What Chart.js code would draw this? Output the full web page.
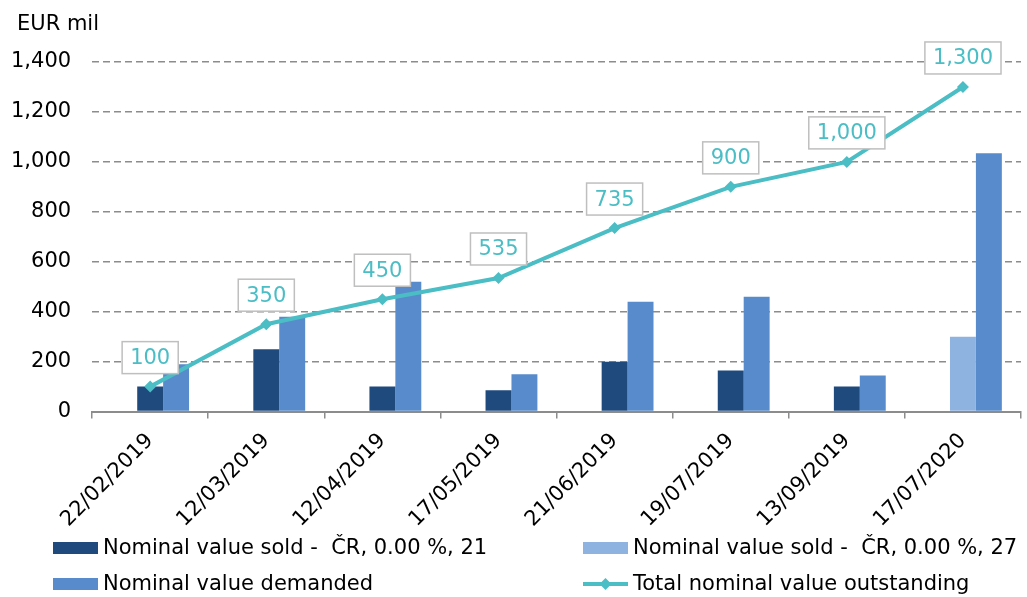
<!DOCTYPE html>
<html>
<head>
<meta charset="utf-8">
<script src="https://cdn.jsdelivr.net/npm/chart.js@4.4.1/dist/chart.umd.min.js"></script>
<style>
  html, body { margin: 0; padding: 0; background: #fff; }
  #wrap { width: 1027px; height: 597px; }
</style>
</head>
<body>
<div id="wrap"><canvas id="auctionChart"></canvas></div>
<script>
// auction dates
const categories = ['22/02/2019', '12/03/2019', '12/04/2019', '17/05/2019', '21/06/2019', '19/07/2019', '13/09/2019', '17/07/2020'];
// EUR mil
const soldBond21 = [100, 250, 100, 85, 200, 165, 100, null];
const soldBond27 = [null, null, null, null, null, null, null, 300];
const demanded = [190, 380, 520, 150, 440, 460, 145, 1035];
const outstanding = [100, 350, 450, 535, 735, 900, 1000, 1300];
// empty first slot in each cluster (as in the original)
const spacer = [null, null, null, null, null, null, null, null];
const yTicks = [0, 200, 400, 600, 800, 1000, 1200, 1400];

const FONT = '"DejaVu Sans", Verdana, sans-serif';
const TEAL = '#4BBDC5';
const GRID = '#8C8C8C';

const fmt = v => v.toLocaleString('en-US');

// boxed value labels above the line points
const boxLabels = {
    id: 'boxLabels',
    afterDatasetsDraw(chart) {
        const ctx = chart.ctx;
        const meta = chart.getDatasetMeta(0);
        ctx.save();
        ctx.font = '21px ' + FONT;
        meta.data.forEach((pt, i) => {
            const text = fmt(outstanding[i]);
            const w = ctx.measureText(text).width + 16;
            const h = 32;
            const x = pt.x - w / 2;
            const y = pt.y - 13 - h;
            ctx.fillStyle = '#fff';
            ctx.fillRect(x, y, w, h);
            ctx.strokeStyle = '#BFBFBF';
            ctx.lineWidth = 1.5;
            ctx.strokeRect(x, y, w, h);
            ctx.fillStyle = TEAL;
            ctx.textAlign = 'center';
            ctx.textBaseline = 'middle';
            ctx.fillText(text, pt.x, y + h / 2 + 1);
        });
        ctx.restore();
    }
};

// unit caption + two-column legend
const extras = {
    id: 'extras',
    afterDraw(chart) {
        const ctx = chart.ctx;
        ctx.save();
        ctx.font = '21px ' + FONT;
        ctx.fillStyle = '#000';
        ctx.textBaseline = 'middle';
        ctx.textAlign = 'left';
        ctx.fillText('EUR mil', 17, 25);

        const ds = chart.data.datasets;
        const items = [
            { d: ds[2], x: 53, y: 548 },
            { d: ds[3], x: 583, y: 548 },
            { d: ds[4], x: 53, y: 584 },
            { d: ds[0], x: 583, y: 584 }
        ];
        items.forEach(it => {
            if (it.d.type === 'line') {
                ctx.strokeStyle = it.d.borderColor;
                ctx.lineWidth = 4;
                ctx.beginPath();
                ctx.moveTo(it.x, it.y);
                ctx.lineTo(it.x + 45, it.y);
                ctx.stroke();
                ctx.fillStyle = it.d.borderColor;
                ctx.beginPath();
                const cx = it.x + 22.5, r = 6;
                ctx.moveTo(cx, it.y - r);
                ctx.lineTo(cx + r, it.y);
                ctx.lineTo(cx, it.y + r);
                ctx.lineTo(cx - r, it.y);
                ctx.closePath();
                ctx.fill();
            } else {
                ctx.fillStyle = it.d.backgroundColor;
                ctx.fillRect(it.x, it.y - 6, 45, 12);
            }
            ctx.fillStyle = '#000';
            ctx.fillText(it.d.label, it.x + 50, it.y + 1);
        });
        ctx.restore();
    }
};

new Chart(document.getElementById('auctionChart'), {
    data: {
        labels: categories,
        datasets: [{
            type: 'line',
            label: 'Total nominal value outstanding',
            data: outstanding,
            borderColor: TEAL,
            backgroundColor: TEAL,
            borderWidth: 4,
            pointStyle: 'rectRot',
            pointRadius: 6,
            pointBorderWidth: 0,
            tension: 0,
            order: 0
        }, {
            type: 'bar',
            label: '',
            data: spacer,
            stack: 'gap',
            backgroundColor: 'rgba(0,0,0,0)',
            order: 1
        }, {
            type: 'bar',
            label: 'Nominal value sold -  ČR, 0.00 %, 21',
            data: soldBond21,
            stack: 'sold',
            backgroundColor: '#1F4A7E',
            order: 1
        }, {
            type: 'bar',
            label: 'Nominal value sold -  ČR, 0.00 %, 27',
            data: soldBond27,
            stack: 'sold',
            backgroundColor: '#8FB3E0',
            order: 1
        }, {
            type: 'bar',
            label: 'Nominal value demanded',
            data: demanded,
            stack: 'dem',
            backgroundColor: '#588BCB',
            order: 1
        }]
    },
    options: {
        responsive: true,
        maintainAspectRatio: false,
        animation: false,
        datasets: {
            bar: { categoryPercentage: 0.67, barPercentage: 1.0 }
        },
        layout: { padding: { left: 11, top: 62, right: 0, bottom: 55 } },
        plugins: {
            legend: { display: false },
            tooltip: { enabled: false }
        },
        scales: {
            x: {
                offset: true,
                afterFit: axis => { axis.paddingLeft = 0; axis.paddingRight = 0; },
                grid: {
                    offset: true,
                    drawOnChartArea: false,
                    drawTicks: true,
                    tickLength: 7,
                    color: GRID,
                    lineWidth: 1.5
                },
                border: { display: true, color: GRID, width: 2 },
                ticks: {
                    minRotation: 45,
                    maxRotation: 45,
                    padding: 10,
                    color: '#000',
                    font: { family: FONT, size: 21 }
                }
            },
            y: {
                min: yTicks[0],
                max: yTicks[yTicks.length - 1],
                afterBuildTicks: axis => { axis.ticks = yTicks.map(v => ({ value: v })); },
                // padding is counted twice in the width; keep it once
                afterFit: axis => { axis.width -= axis.options.ticks.padding; },
                grid: {
                    drawTicks: false,
                    color: GRID,
                    lineWidth: 1.5
                },
                border: { display: false, dash: [7, 4] },
                ticks: {
                    padding: 21,
                    color: '#000',
                    font: { family: FONT, size: 21 },
                    callback: v => fmt(v)
                }
            }
        }
    },
    plugins: [boxLabels, extras]
});
</script>
</body>
</html>
